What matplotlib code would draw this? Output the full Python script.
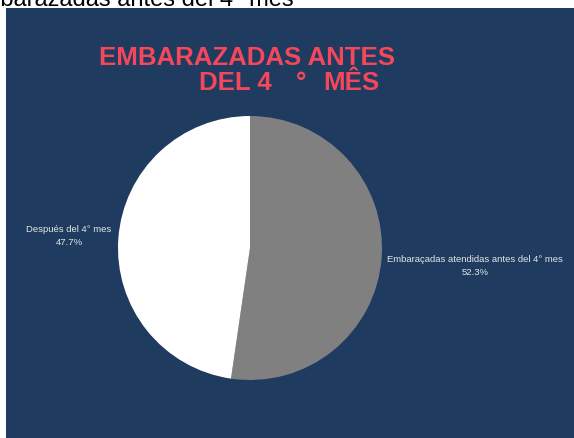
import matplotlib
matplotlib.use("Agg")
import matplotlib.pyplot as plt
from matplotlib.patches import Rectangle

plt.rcParams['font.family'] = ['Liberation Sans', 'DejaVu Sans']

labels = ["Embaraçadas atendidas antes del 4° mes", "Después del 4° mes"]
values = [52.3, 47.7]
colors = ["#808080", "#ffffff"]

W, H = 574, 438
fig = plt.figure(figsize=(W / 100, H / 100), dpi=100)
fig.patch.set_facecolor("white")

# dark panel behind the chart
fig.patches.append(Rectangle((6 / W, 0), 1 - 6 / W, 1 - 8 / H, transform=fig.transFigure,
                             facecolor="#1f3b60", edgecolor="none", zorder=-10))

def px(x, y):
    return x / W, 1 - y / H

# cut-off title of the original page
fig.text(*px(-35, 6), "Embarazadas antes del 4° mes", fontsize=17, color="black", va="baseline")

# pie
cx, cy, r = 250, 248, 132
ax = fig.add_axes([(cx - r) / W, (H - cy - r) / H, 2 * r / W, 2 * r / H])
ax.pie(values, colors=colors, startangle=90, counterclock=False, radius=1,
       wedgeprops=dict(linewidth=0))
ax.set_xlim(-1, 1)
ax.set_ylim(-1, 1)
ax.axis("off")

# title
red = "#f5475b"
fig.text(*px(99, 65), "EMBARAZADAS ANTES", fontsize=18.6, fontweight="bold", color=red, va="baseline")
fig.text(*px(199, 90), "DEL 4", fontsize=18.6, fontweight="bold", color=red, va="baseline")
fig.text(*px(296, 90), "°", fontsize=18.6, fontweight="bold", color=red, va="baseline")
fig.text(*px(323, 90), "MÊS", fontsize=18.6, fontweight="bold", color=red, va="baseline")

# slice labels
fig.text(*px(475, 266), f"{labels[0]}\n{values[0]}%", fontsize=6.8, color="#e6e6e6",
         ha="center", va="center", linespacing=1.5)
fig.text(*px(69, 236), f"{labels[1]}\n{values[1]}%", fontsize=6.8, color="#e6e6e6",
         ha="center", va="center", linespacing=1.5)

fig.savefig("out.png", dpi=100)
